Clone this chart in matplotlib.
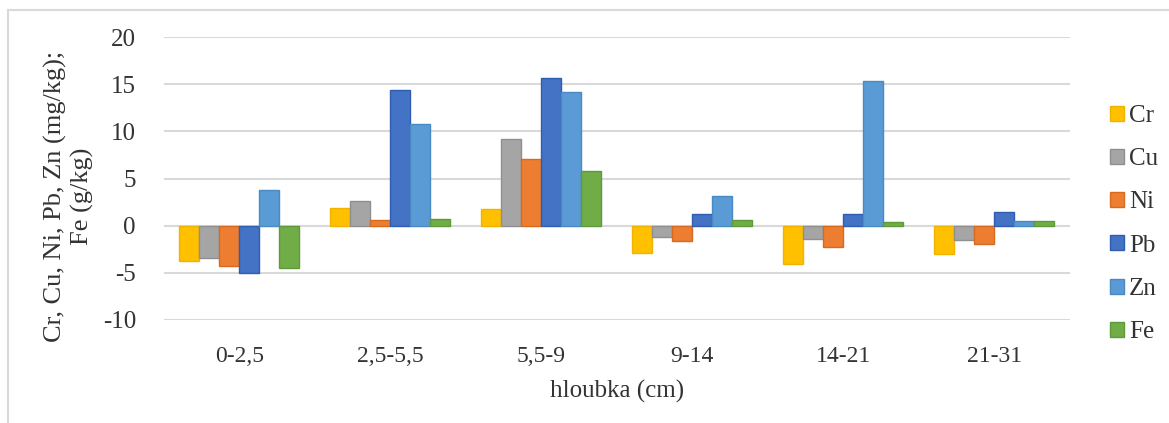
import matplotlib
matplotlib.use("Agg")
import matplotlib.pyplot as plt
import numpy as np
from matplotlib.patches import Rectangle

plt.rcParams['font.family'] = ['Liberation Serif', 'DejaVu Serif']
plt.rcParams['axes.unicode_minus'] = False

# depth intervals and element values
depths = ['0-2,5', '2,5-5,5', '5,5-9', '9-14', '14-21', '21-31']
elements = ['Cr', 'Cu', 'Ni', 'Pb', 'Zn', 'Fe']
cr = [-3.75, 1.9, 1.75, -2.9, -4.1, -3.0]
cu = [-3.45, 2.6, 9.15, -1.2, -1.4, -1.5]
ni = [-4.3, 0.65, 7.1, -1.6, -2.25, -1.95]
pb = [-5.05, 14.4, 15.7, 1.2, 1.2, 1.4]
zn = [3.75, 10.75, 14.2, 3.1, 15.3, 0.45]
fe = [-4.5, 0.75, 5.8, 0.65, 0.35, 0.45]

colors = ['#FFC000', '#A5A5A5', '#ED7D31', '#4472C4', '#5B9BD5', '#70AD47']
edges = ['#F0B400', '#8F8F8F', '#D86A20', '#2F5DAF', '#4A8AC4', '#5E9A38']

fig = plt.figure(figsize=(11.69, 4.23), dpi=100)
ax = fig.add_axes([0.140, 0.2435, 0.775, 0.669])

x = np.arange(len(depths))
w = 0.1325
series = [cr, cu, ni, pb, zn, fe]
for i, (vals, name) in enumerate(zip(series, elements)):
    ax.bar(x + (i - 2.5) * w, vals, w, color=colors[i], edgecolor=edges[i],
           linewidth=1.0, label=name, zorder=3)

ax.set_ylim(-10, 20)
ax.set_yticks(np.arange(-10, 21, 5))
ax.set_xlim(-0.5, len(depths) - 0.5)
ax.set_xticks(x)
ax.set_xticklabels(depths)
ax.grid(axis='y', color='#D9D9D9', linewidth=1.5, zorder=0)
for s in ax.spines.values():
    s.set_visible(False)
ax.tick_params(axis='both', length=0, colors='#333333')
ax.tick_params(axis='y', pad=20, labelsize=18)
ax.tick_params(axis='x', pad=19, labelsize=17)
ax.set_xlabel('hloubka (cm)', fontsize=18, color='#333333', labelpad=9)

fig.text(69 / 1169, 1 - 196 / 423, 'Cr, Cu, Ni, Pb, Zn (mg/kg);\nFe (g/kg)',
         rotation=90, ha='center', va='center', multialignment='center',
         fontsize=19, color='#333333', linespacing=1.2)

ax.legend(loc='center left', bbox_to_anchor=(1110 / 1169, 1 - 224 / 423),
          bbox_transform=fig.transFigure, frameon=False, fontsize=18,
          borderaxespad=0, borderpad=0,
          handlelength=0.55, handleheight=0.55, handletextpad=0.2,
          labelspacing=0.85, labelcolor='#333333')

fig.patches.append(Rectangle((8 / 1169, -0.5), 2, 1 - 10 / 423 + 0.5,
                             transform=fig.transFigure, fill=False,
                             edgecolor='#D9D9D9', linewidth=1.5))

fig.savefig('out.png', dpi=100)
